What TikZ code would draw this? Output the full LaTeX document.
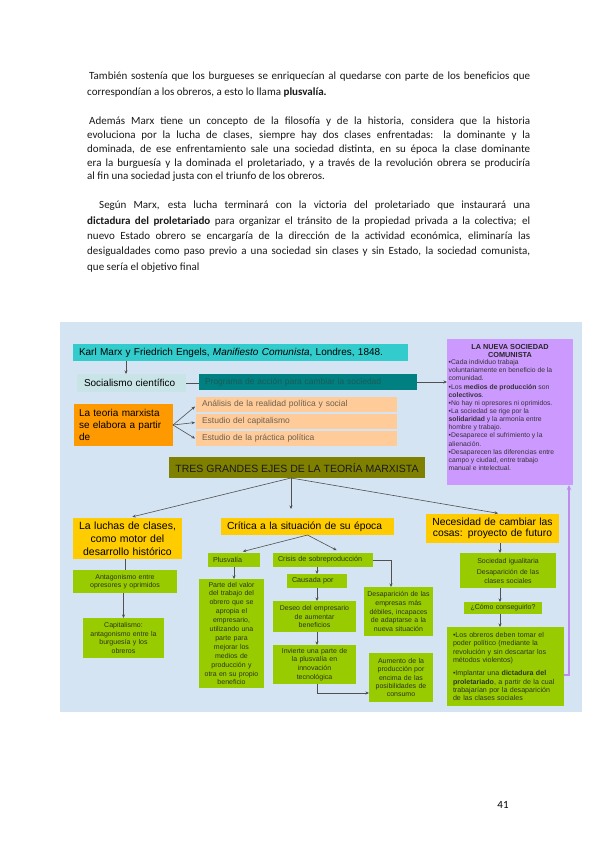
\documentclass[tikz,border=0pt]{standalone}
\usepackage{fontspec}
\setmainfont{Carlito}
\newfontfamily\arialf{Liberation Sans}
\usetikzlibrary{arrows.meta,calc}
\definecolor{bgblue}{RGB}{212,228,242}
\definecolor{cyanbox}{RGB}{51,204,204}
\definecolor{socbox}{RGB}{200,228,230}
\definecolor{tealbox}{RGB}{0,128,128}
\definecolor{tealtext}{RGB}{30,90,90}
\definecolor{orangebox}{RGB}{255,153,0}
\definecolor{peachbox}{RGB}{255,204,153}
\definecolor{peachtext}{RGB}{110,95,80}
\definecolor{olivebox}{RGB}{128,128,0}
\definecolor{goldbox}{RGB}{255,204,0}
\definecolor{greenbox}{RGB}{153,204,0}
\definecolor{greentext}{RGB}{45,50,30}
\definecolor{purplebox}{RGB}{204,153,255}
\definecolor{purpleline}{RGB}{190,140,240}
\definecolor{arrowgray}{RGB}{80,80,80}
\newcommand\fsz[2]{\fontsize{#1}{#2}\selectfont}
\begin{document}
\begin{tikzpicture}[x=1pt,y=-1pt,
  bodyline/.style={anchor=base west, inner sep=0pt, font=\fsz{11}{13}, text=black!90},
  dbox/.style={inner sep=0pt, outer sep=0pt},
  gbox/.style={dbox, fill=greenbox, text=greentext, align=center, font=\arialf\fsz{7}{8.6}},
  gold/.style={dbox, fill=goldbox, text=black, font=\arialf\fsz{10.3}{12}},
  peach/.style={dbox, fill=peachbox, text=peachtext, minimum width=195pt, minimum height=15pt, text width=189pt, inner xsep=6pt, align=left, font=\arialf\fsz{8.5}{10}},
  arr/.style={draw=arrowgray, line width=0.6pt, -{Stealth[length=3.5pt,width=3pt]}},
  conn/.style={draw=arrowgray, line width=0.6pt},
]
\useasboundingbox (0,0) rectangle (599,848);
\fill[white] (0,0) rectangle (599,848);

% ---- body text ----
\node[bodyline] (p1a) at (89,79.8) {\makebox[441pt][s]{También sostenía que los burgueses se enriquecían al quedarse con parte de los beneficios que}};
\node[bodyline] (p1b) at (87,95.3) {correspondían a los obreros, a esto lo llama \textbf{plusvalía.}};
\node[bodyline] (p2a) at (89,124.3) {\makebox[441pt][s]{Además Marx tiene un concepto de la filosofía y de la historia, considera que la historia}};
\node[bodyline] (p2b) at (87,138.8) {\makebox[443pt][s]{evoluciona por la lucha de clases, siempre hay dos clases enfrentadas: la dominante y la}};
\node[bodyline] (p2c) at (87,152.9) {\makebox[443pt][s]{dominada, de ese enfrentamiento sale una sociedad distinta, en su época la clase dominante}};
\node[bodyline] (p2d) at (87,166.5) {\makebox[443pt][s]{era la burguesía y la dominada el proletariado, y a través de la revolución obrera se produciría}};
\node[bodyline] (p2e) at (87,179.8) {al fin una sociedad justa con el triunfo de los obreros.};
\node[bodyline] (p3a) at (99,208.3) {\makebox[431pt][s]{Según Marx, esta lucha terminará con la victoria del proletariado que instaurará una}};
\node[bodyline] (p3b) at (87,224.5) {\makebox[443pt][s]{\textbf{dictadura del proletariado} para organizar el tránsito de la propiedad privada a la colectiva; el}};
\node[bodyline] (p3c) at (87,239.3) {\makebox[443pt][s]{nuevo Estado obrero se encargaría de la dirección de la actividad económica, eliminaría las}};
\node[bodyline] (p3d) at (87,254) {\makebox[443pt][s]{desigualdades como paso previo a una sociedad sin clases y sin Estado, la sociedad comunista,}};
\node[bodyline] (p3e) at (87,270) {que sería el objetivo final};

\node[anchor=center, inner sep=0pt, font=\fsz{11}{13}] (pagenum) at (503,805) {41};

% ---- diagram background ----
\fill[bgblue] (60,322) rectangle (582,712);

% ---- top boxes ----
\node[dbox, fill=cyanbox, minimum width=335pt, minimum height=17pt, text width=323pt, inner xsep=6pt, align=left, font=\arialf\fsz{10}{12}] (title) at (240.5,352.5) {Karl Marx y Friedrich Engels, \textit{Manifiesto Comunista}, Londres, 1848.};
\node[dbox, fill=socbox, minimum width=109pt, minimum height=18pt, text width=95pt, inner xsep=7pt, align=left, font=\arialf\fsz{10}{12}] (soc) at (131.5,383) {Socialismo científico};
\node[dbox, fill=tealbox, text=tealtext, minimum width=218pt, minimum height=16pt, text width=206pt, inner xsep=6pt, align=left, font=\arialf\fsz{8.5}{10}] (prog) at (308,382) {Programa de acción para cambiar la sociedad};

\node[dbox, fill=purplebox, minimum width=126pt, minimum height=146pt] (nueva) at (510,412) {};
\node[anchor=north, inner sep=0pt, align=center, font=\arialf\bfseries\fsz{7.3}{8.3}, text=black!85] (nuevaT) at (510,344) {LA NUEVA SOCIEDAD\\COMUNISTA};
\node[anchor=north west, inner sep=0pt, align=left, font=\arialf\fsz{6.8}{8.15}, text=black!80] (nuevaB) at (448.5,359.5) {•Cada individuo trabaja\\voluntariamente en beneficio de la\\comunidad.\\•Los \textbf{medios de producción} son\\\textbf{colectivos}.\\•No hay ni opresores ni oprimidos.\\•La sociedad se rige por la\\\textbf{solidaridad} y la armonía entre\\hombre y trabajo.\\•Desaparece el sufrimiento y la\\alienación.\\•Desaparecen las diferencias entre\\campo y ciudad, entre trabajo\\manual e intelectual.};

\node[peach] (ana) at (296.5,404.5) {Análisis de la realidad política y social};
\node[peach] (est1) at (296.5,421.5) {Estudio del capitalismo};
\node[peach] (est2) at (296.5,438.5) {Estudio de la práctica política};
\node[dbox, fill=orangebox, minimum width=99pt, minimum height=42pt, text width=89pt, inner xsep=5pt, align=left, font=\arialf\fsz{10}{11.7}] (teoria) at (123.5,425) {La teoria marxista\\se elabora a partir\\de};

\node[dbox, fill=olivebox, minimum width=256pt, minimum height=21pt, font=\arialf\fsz{10.5}{12}, text=black!90] (tres) at (297,467.5) {TRES GRANDES EJES DE LA TEORÍA MARXISTA};

% ---- three axes ----
\node[gold, minimum width=109pt, minimum height=41pt, text width=105pt, inner xsep=2pt, align=center, font=\arialf\fsz{10.5}{13}] (luchas) at (127.5,538.5) {La luchas de clases,\\como motor del\\desarrollo histórico};
\node[gold, minimum width=173pt, minimum height=17pt, text width=161pt, inner xsep=6pt, align=left] (critica) at (307.5,526.5) {Crítica a la situación de su época};
\node[gold, minimum width=133pt, minimum height=29pt, text width=129pt, inner xsep=2pt, align=center, font=\arialf\fsz{10.3}{11.2}] (necesidad) at (492.5,528.5) {Necesidad de cambiar las\\cosas: proyecto de futuro};

% left column
\node[gbox, minimum width=104pt, minimum height=23pt, text width=100pt, inner xsep=2pt, font=\arialf\fsz{7}{7.9}] (antag) at (125,581.5) {Antagonismo entre\\opresores y oprimidos};
\node[gbox, minimum width=81pt, minimum height=40pt, text width=77pt, inner xsep=2pt, font=\arialf\fsz{7}{8.5}] (capit) at (123.5,638) {Capitalismo:\\antagonismo entre la\\burguesía y los\\obreros};

% middle column
\node[gbox, minimum width=52pt, minimum height=14pt, text width=42pt, inner xsep=5pt, align=left, font=\arialf\fsz{7.2}{8.6}] (plus) at (234,560) {Plusvalía};
\node[gbox, minimum width=100pt, minimum height=14pt, text width=90pt, inner xsep=5pt, align=left, font=\arialf\fsz{7.2}{8.6}] (crisis) at (323,560) {Crisis de sobreproducción};
\node[gbox, minimum width=65pt, minimum height=109pt, text width=63pt, inner xsep=1pt, font=\arialf\fsz{7}{8.9}] (parte) at (231.5,633.5) {Parte del valor\\del trabajo del\\obrero que se\\apropia el\\empresario,\\utilizando una\\parte para\\mejorar los\\medios de\\producción y\\otra en su propio\\beneficio};
\node[gbox, minimum width=60pt, minimum height=14pt, text width=50pt, inner xsep=5pt, align=left, font=\arialf\fsz{7.2}{8.6}] (causada) at (317,581) {Causada por};
\node[gbox, minimum width=83pt, minimum height=31pt, text width=79pt, inner xsep=2pt, font=\arialf\fsz{7}{8.7}] (deseo) at (314.5,616.5) {Deseo del empresario\\de aumentar\\beneficios};
\node[gbox, minimum width=83pt, minimum height=39pt, text width=79pt, inner xsep=2pt, font=\arialf\fsz{7}{8.8}] (invierte) at (314.5,664.5) {Invierte una parte de\\la plusvalía en\\innovación\\tecnológica};
\node[gbox, minimum width=69pt, minimum height=49pt, text width=67pt, inner xsep=1pt, font=\arialf\fsz{7}{8.7}] (desap) at (398.5,611.5) {Desaparición de las\\empresas más\\débiles, incapaces\\de adaptarse a la\\nueva situación};
\node[gbox, minimum width=64pt, minimum height=49pt, text width=62pt, inner xsep=1pt, font=\arialf\fsz{7}{8.2}] (aumento) at (401,677.5) {Aumento de la\\producción por\\encima de las\\posibilidades de\\consumo};

% right column
\node[gbox, minimum width=96pt, minimum height=35pt, text width=92pt, inner xsep=2pt, font=\arialf\fsz{7}{8.3}] (igual) at (508,570.5) {Sociedad igualitaria\\[3.4pt]Desaparición de las\\clases sociales};
\node[gbox, minimum width=78pt, minimum height=12pt, text width=74pt, inner xsep=2pt, font=\arialf\fsz{7}{8.3}] (como) at (503,608) {¿Cómo conseguirlo?};
\node[gbox, minimum width=117pt, minimum height=79pt, text width=105pt, inner xsep=6pt, align=left, font=\arialf\fsz{7.1}{8.33}] (dict) at (505.5,666.5) {•Los obreros deben tomar el\\poder político (mediante la\\revolución y sin descartar los\\métodos violentos)\\[5pt]•Implantar una \textbf{dictadura del}\\\textbf{proletariado}, a partir de la cual\\trabajarían por la desaparición\\de las clases sociales};

% ---- connectors ----
\draw[arr] ($(title.south -| soc.north)+(-5.5,0)$) -- ($(soc.north)+(-5.5,0)$);
\draw[conn] (soc.east) -- (soc.east -| prog.west);
\draw[arr] (prog.east) -- (prog.east -| nueva.west);
\draw[arr] (teoria.east) -- ($(ana.west)+(-1,2)$);
\draw[arr] (teoria.east) -- ($(est1.west)+(-1,1)$);
\draw[arr] (teoria.east) -- ($(est2.west)+(-1,0)$);

\coordinate (tresb) at ($(tres.south)+(-6,0)$);
\draw[arr, shorten >=5pt] (tresb) -- (luchas.north);
\draw[arr, shorten >=9pt] (tresb) -- (tresb |- critica.north);
\draw[arr, shorten >=4pt] (tresb) -- ($(necesidad.north)+(9.5,0)$);

\draw[arr, shorten >=6pt] (critica.south) -- ($(plus.north)+(3,0)$);
\draw[arr, shorten >=6pt] (critica.south) -- ($(crisis.north)+(19,0)$);

\draw[conn] (luchas.south -| antag.north) -- (antag.north);
\draw[arr] (antag.south -| capit.north) -- (capit.north);

\draw[arr] (plus.south) -- (plus.south |- parte.north);
\draw[arr] (crisis.south -| causada.north) -- (causada.north);
\draw[arr] (causada.south) -- (causada.south |- deseo.north);
\draw[arr] (causada.south |- deseo.south) -- (causada.south |- invierte.north);
\draw[arr] (causada.south |- invierte.south) |- ($(aumento.south west)+(0,-9)$);
\draw[arr] (crisis.east) -| ($(desap.north)+(-7.5,0)$);

\draw[arr] ($(necesidad.south)+(7.5,0)$) -- ($(igual.north)+(-8,0)$);
\draw[arr] ($(igual.south)+(-8,0)$) -- ($(como.north)+(-3,0)$);
\draw[arr] ($(como.south)+(-3,0)$) -- ($(dict.north)+(-5.5,0)$);

\draw[draw=purpleline, line width=1.6pt, -{Stealth[length=5pt,width=4.5pt]}] ($(dict.east)+(0,8.5)$) -| ($(nueva.south east)+(-4,0)$);
\end{tikzpicture}
\end{document}
